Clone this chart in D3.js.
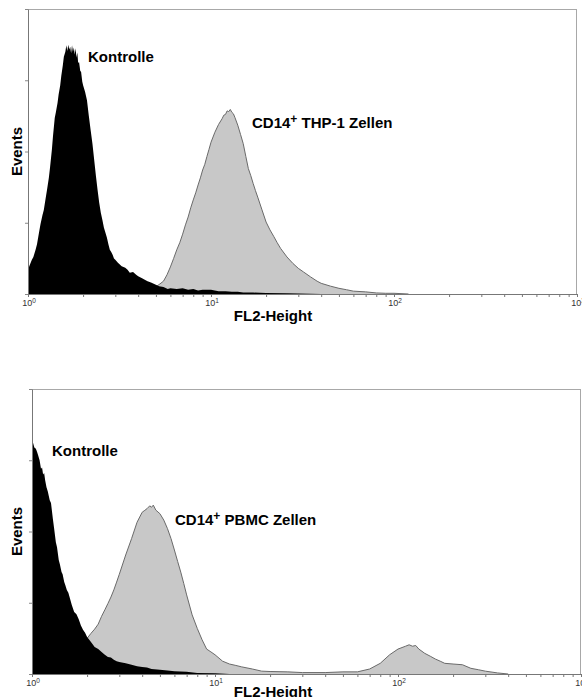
<!DOCTYPE html>
<html><head><meta charset="utf-8">
<script src="https://cdn.jsdelivr.net/npm/d3@7"></script>
<style>
html,body{margin:0;padding:0;background:#fff;}
svg{display:block;}
text{font-family:"Liberation Sans",Arial,sans-serif;}
</style></head>
<body>
<script>
// ---- data (FL2 value, events) ----
const thpCtrlFL = [1.0,1.02,1.05,1.07,1.1,1.12,1.15,1.17,1.2,1.22,1.25,1.27,1.3,1.32,1.35,1.37,1.4,1.42,1.45,1.47,1.5,1.52,1.55,1.57,1.6,1.62,1.64,1.66,1.68,1.7,1.72,1.74,1.76,1.78,1.8,1.82,1.84,1.86,1.88,1.9,1.93,1.95,1.98,2.0,2.05,2.1,2.15,2.2,2.25,2.3,2.35,2.4,2.45,2.5,2.55,2.6,2.65,2.7,2.75,2.8,2.85,2.9,2.95,3.0,3.1,3.25,3.4,3.5,3.6,3.75,3.9,4.0,4.2,4.5,4.7,5.0,5.2,5.5,5.8,6.0,6.5,7.0,7.5,8.0,8.5,9.0,10,11,12,13,14,15,17,20,26,40];
const thpCtrlEv = [34,40,48,52,62,70,87,98,111,118,135,146,163,178,202,222,247,255,268,280,293,306,321,333,340,349,341,350,343,347,338,349,340,346,336,345,332,339,324,326,313,312,298,293,284,272,250,230,211,188,166,146,128,114,104,93,86,79,70,62,59,55,50,48,44,39,37,34,30,31,27,25,22,18,16,13,11,10,7,8,7,8,6,7,5,6,6,4,4,3,3,2,2,1.5,1,0];

const thpCD14FL = [4.4,4.7,5.0,5.25,5.5,5.75,6.0,6.25,6.5,6.75,7.0,7.25,7.5,7.75,8.0,8.25,8.5,8.75,9.0,9.25,9.5,9.75,10,10.5,11,11.5,11.75,12,12.25,12.5,12.75,13,13.25,13.5,14,14.5,15,15.5,16,16.5,17,17.5,18,19,20,21,22,23,24,26,28,30,32,35,38,40,45,50,55,60,70,80,90,100,120];
const thpCD14Ev = [0,4,10,14,18,27,38,50,62,72,84,97,108,121,132,142,153,163,174,182,193,203,213,227,238,246,251,252,257,256,259,255,253,248,237,224,211,193,176,166,155,145,136,118,101,90,81,72,64,52,43,36,31,24,18,15,11,8,6,4,3,1.5,1,1,0];

const pbmcCtrlFL = [1.0,1.006,1.012,1.03,1.05,1.065,1.08,1.1,1.12,1.135,1.15,1.165,1.18,1.2,1.22,1.25,1.27,1.3,1.32,1.35,1.37,1.4,1.42,1.45,1.47,1.5,1.52,1.55,1.58,1.6,1.65,1.7,1.75,1.8,1.85,1.9,1.95,2.0,2.1,2.2,2.3,2.4,2.5,2.6,2.7,2.8,2.9,3.0,3.25,3.5,3.75,4,4.25,4.5,5,5.5,6,7,8,10,12];
const pbmcCtrlEv = [398,398,325,318,316,312,307,300,288,290,280,282,272,262,256,244,240,218,205,185,178,160,154,143,140,129,125,118,114,109,97,87,84,77,68,62,58,52,45,38,35,31,27,24,23,20,18,17,15,13,11,10,9,7,6,5,4,3,1.5,1,0];

const pbmcCD14FL = [1.8,2.0,2.1,2.2,2.3,2.4,2.5,2.6,2.7,2.8,2.9,3.0,3.25,3.5,3.75,4.0,4.1,4.25,4.4,4.5,4.6,4.75,5.0,5.25,5.5,5.75,6.0,6.25,6.5,6.75,7.0,7.5,8.0,8.5,9.0,9.5,10,11,12,13,14,16,18,20,25,30,40,50,60,70,80,90,100,110,115,120,125,130,140,150,160,170,180,200,225,250,275,300,350,400];
const pbmcCD14Ev = [41,50,57,63,70,81,90,99,108,118,129,140,167,190,213,227,229,232,236,234,237,230,225,216,204,190,174,158,143,127,111,83,64,48,35,31,27,18,14,12,10,7,4,3.5,3,2,2,3,3,7,15,27,35,39,41,39,40,35,29,25,21,18,15,14,13,8,6,4,1.5,0];

const xDomain = [1, 1000];
const yDomain = [0, 400];
const yTicks = [0, 100, 200, 300, 400];
const decadeTicks = [1, 10, 100, 1000];
const decadeExp = ["0", "1", "2", "3"];
const minorTicks = [2,3,4,5,6,7,8,9,20,30,40,50,60,70,80,90,200,300,400,500,600,700,800,900];

const panels = [
  {x0:28, x1:577, yTop:9, yBot:294, ctrlFL:thpCtrlFL, ctrlEv:thpCtrlEv, posFL:thpCD14FL, posEv:thpCD14Ev,
   ctrlLabel:{x:88,y:62}, posLabel:{x:252,y:128,name:" THP-1 Zellen"}, xTitleY:321, yTitleX:22},
  {x0:32, x1:581, yTop:389, yBot:674, ctrlFL:pbmcCtrlFL, ctrlEv:pbmcCtrlEv, posFL:pbmcCD14FL, posEv:pbmcCD14Ev,
   ctrlLabel:{x:52,y:456}, posLabel:{x:175,y:525,name:" PBMC Zellen"}, xTitleY:697, yTitleX:22}
];

const svg = d3.select("body").append("svg").attr("width",582).attr("height",697);

panels.forEach(p => {
  const x = d3.scaleLog().domain(xDomain).range([p.x0, p.x1]);
  const y = d3.scaleLinear().domain(yDomain).range([p.yBot, p.yTop]);
  const g = svg.append("g");

  const pos = p.posFL.map((v,i)=>[v,p.posEv[i]]);
  const ctrl = p.ctrlFL.map((v,i)=>[v,p.ctrlEv[i]]);
  const area = d3.area().x(d=>x(d[0])).y0(y(0)).y1(d=>y(d[1]));
  const line = d3.line().x(d=>x(d[0])).y(d=>y(d[1]));

  g.append("path").datum(pos).attr("d",area).attr("fill","#c8c8c8");
  g.append("path").datum(pos).attr("d",line).attr("fill","none").attr("stroke","#6a6a6a").attr("stroke-width",1);
  g.append("path").datum(ctrl).attr("d",area).attr("fill","#000");

  // frame
  g.append("line").attr("x1",p.x0).attr("x2",p.x1).attr("y1",p.yTop+0.5).attr("y2",p.yTop+0.5).attr("stroke","#a8a8a8");
  g.append("line").attr("x1",p.x1-0.5).attr("x2",p.x1-0.5).attr("y1",p.yTop).attr("y2",p.yBot).attr("stroke","#a8a8a8");

  // axes
  const xa = g.append("g").attr("transform",`translate(0,${p.yBot})`)
    .call(d3.axisBottom(x).tickValues(decadeTicks.concat(minorTicks)).tickSize(3).tickSizeOuter(0).tickFormat(""));
  xa.select(".domain").attr("stroke","#777");
  xa.selectAll(".tick line").attr("stroke","#777");

  const ya = g.append("g").attr("transform",`translate(${p.x0},0)`)
    .call(d3.axisLeft(y).tickValues(yTicks).tickSize(3).tickSizeOuter(0).tickFormat(""));
  ya.select(".domain").attr("stroke","#777");
  ya.selectAll(".tick line").attr("stroke","#888");

  // decade labels
  decadeTicks.forEach((t,i)=>{
    const tx = g.append("text").attr("x",x(t)+1).attr("y",p.yBot+12)
      .attr("text-anchor","middle").attr("font-size",9).attr("fill","#333");
    tx.append("tspan").text("10");
    tx.append("tspan").attr("dy",-3.5).attr("font-size",6.5).text(decadeExp[i]);
  });

  // axis titles
  g.append("text").attr("x",273).attr("y",p.xTitleY).attr("text-anchor","middle")
    .attr("font-size",15).attr("font-weight","bold").attr("fill","#000").text("FL2-Height");
  g.append("text").attr("transform",`translate(${p.yTitleX},${(p.yTop+p.yBot)/2}) rotate(-90)`)
    .attr("text-anchor","middle").attr("font-size",15).attr("font-weight","bold").attr("fill","#000").text("Events");

  // curve labels
  g.append("text").attr("x",p.ctrlLabel.x).attr("y",p.ctrlLabel.y).attr("font-size",15)
    .attr("font-weight","bold").text("Kontrolle");
  const pl = g.append("text").attr("x",p.posLabel.x).attr("y",p.posLabel.y).attr("font-size",15).attr("font-weight","bold");
  pl.append("tspan").text("CD14");
  pl.append("tspan").attr("dy",-5).attr("font-size",12).text("+");
  pl.append("tspan").attr("dy",5).text(p.posLabel.name);
});
</script>
</body></html>
